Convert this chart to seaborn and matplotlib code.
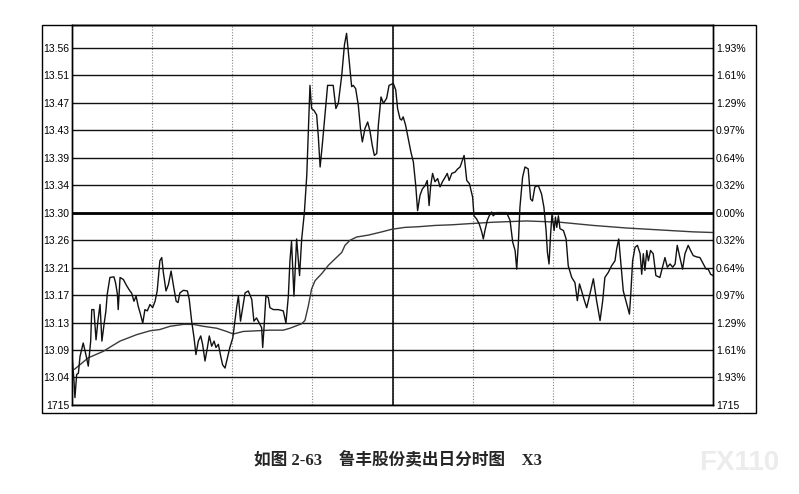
import numpy as np
import matplotlib
matplotlib.use("Agg")
import matplotlib.pyplot as plt
import seaborn as sns
from matplotlib.patches import Rectangle

# 昨收 与 每格涨跌幅 (0.32% 左右)
prev_close = 13.30
step = 0.04278

# 分时价格 (分钟, 价格)
price_t = [0, 0.75, 1.1, 1.75, 2.4, 3, 4.2, 5.2, 6.1, 7, 7.4, 8.2, 9, 9.7, 10.5, 11.2, 12, 12.7, 13.2, 14.2,
           15.7, 16.3, 17, 17.3, 18, 19.2, 20.5, 21.7, 22.3, 23.2, 24, 24.8, 25.5, 26.5, 27.3, 28.2, 29.2, 30.2,
           31.1, 31.9, 32.9, 33.6, 34.2, 35.2, 36.1, 37.1, 38, 39, 39.7, 40.4, 41.7, 43.2, 43.9, 44.8, 45.7,
           46.4, 47.3, 48.2, 48.9, 49.8, 50.7, 51.4, 52.3, 53.2, 53.9, 54.8, 55.7, 56.4, 57.3, 58.2, 59.1,
           60.2, 61, 61.7, 62.3, 63.1, 63.9, 64.8, 66, 67.3, 68.1, 69.1, 70.1, 71, 71.4, 71.9, 72.6, 73.5,
           74.1, 75.4, 77.2, 79.1, 80.1, 81, 81.6, 82.2, 83.1, 84.1, 85.2, 86, 87, 87.9, 88.5, 89.1, 89.7,
           90.6, 91.6, 92.2, 92.9, 93.7, 94.7, 95.7, 97.8, 98.8, 99.7, 101, 102, 102.8, 103.7, 104.7, 105.3,
           106.2, 107.2, 108, 108.7, 109.7, 110.7, 111.6, 112.4, 113.2, 114.1, 114.7, 115.7, 116.6, 117.8,
           118.7, 120.3, 121.2, 121.9, 122.8, 123.4, 124, 124.9, 125.9, 126.9, 127.8, 128.7, 129.4, 130.3,
           131.2, 132.2, 133, 133.7, 134.3, 135, 135.9, 136.9, 137.8, 138.7, 139.7, 140.5, 141.2, 142.2,
           143.4, 144.4, 145.3, 146.8, 147.8, 148.8, 150, 150.5, 151.5, 152.5, 153.4, 154, 154.6, 155.5,
           156.2, 157.1, 157.7, 159, 162.7, 164, 165, 165.9, 166.5, 167.1, 167.7, 168.7, 169.6, 170.8,
           171.7, 172.4, 173.3, 174.6, 175.8, 176.7, 177.5, 178, 178.6, 179.2, 179.7, 180.5, 181, 181.5,
           182.1, 182.7, 184, 185, 185.8, 187.1, 188.3, 189.2, 190, 190.8, 191.7, 192.7, 193.9, 195.2,
           196.4, 197.7, 198.7, 199.5, 200.8, 202, 203.3, 203.9, 204.7, 205.4, 206.4, 207.7, 208.7, 209.2,
           209.9, 210.8, 211.7, 212.7, 213.3, 213.9, 214.5, 215.2, 215.8, 216.6, 217.6, 218.6, 220.1,
           221.1, 222, 222.9, 223.9, 224.9, 225.8, 226.6, 227.6, 228.6, 229.5, 230.7, 231.6, 232.6, 233.9,
           235.1, 236.4, 237.4, 238.2, 239.1, 240]
price_v = [13.079, 13.038, 13.012, 13.048, 13.05, 13.076, 13.097, 13.079, 13.061, 13.10, 13.149, 13.149,
           13.102, 13.131, 13.157, 13.10, 13.126, 13.147, 13.173, 13.199, 13.20, 13.191, 13.173, 13.149,
           13.199, 13.196, 13.186, 13.178, 13.175, 13.162, 13.17, 13.154, 13.144, 13.128, 13.149, 13.147,
           13.157, 13.152, 13.162, 13.178, 13.225, 13.23, 13.207, 13.178, 13.188, 13.209, 13.186, 13.162,
           13.16, 13.175, 13.179, 13.178, 13.165, 13.131, 13.105, 13.079, 13.10, 13.108, 13.095, 13.069,
           13.09, 13.108, 13.092, 13.10, 13.09, 13.095, 13.076, 13.063, 13.058, 13.074, 13.09, 13.105,
           13.131, 13.154, 13.17, 13.131, 13.152, 13.175, 13.178, 13.165, 13.131, 13.136, 13.128, 13.121,
           13.09, 13.121, 13.17, 13.168, 13.152, 13.149, 13.149, 13.147, 13.128, 13.17, 13.225, 13.255,
           13.17, 13.259, 13.202, 13.259, 13.30, 13.358, 13.426, 13.498, 13.462, 13.459, 13.452, 13.42,
           13.371, 13.405, 13.452, 13.498, 13.498, 13.462, 13.47, 13.514, 13.561, 13.579, 13.54, 13.496,
           13.498, 13.493, 13.467, 13.431, 13.41, 13.431, 13.441, 13.426, 13.405, 13.389, 13.392, 13.436,
           13.48, 13.47, 13.478, 13.498, 13.501, 13.491, 13.462, 13.446, 13.444, 13.449, 13.436, 13.415,
           13.394, 13.379, 13.342, 13.303, 13.327, 13.337, 13.342, 13.35, 13.311, 13.342, 13.361, 13.348,
           13.353, 13.34, 13.348, 13.355, 13.361, 13.35, 13.361, 13.363, 13.368, 13.371, 13.389, 13.35,
           13.345, 13.324, 13.295, 13.29, 13.282, 13.27, 13.259, 13.272, 13.288, 13.295, 13.301, 13.295,
           13.30, 13.30, 13.288, 13.254, 13.241, 13.212, 13.251, 13.308, 13.355, 13.371, 13.368, 13.321,
           13.318, 13.34, 13.342, 13.329, 13.308, 13.272, 13.238, 13.22, 13.267, 13.298, 13.272, 13.293,
           13.277, 13.295, 13.275, 13.272, 13.259, 13.217, 13.199, 13.191, 13.163, 13.189, 13.178, 13.165,
           13.152, 13.173, 13.197, 13.163, 13.132, 13.163, 13.199, 13.207, 13.217, 13.225, 13.243, 13.259,
           13.225, 13.178, 13.158, 13.142, 13.173, 13.225, 13.246, 13.249, 13.236, 13.204, 13.236, 13.21,
           13.241, 13.225, 13.241, 13.236, 13.202, 13.199, 13.215, 13.23, 13.215, 13.22, 13.215, 13.22,
           13.249, 13.23, 13.212, 13.236, 13.249, 13.241, 13.233, 13.231, 13.23, 13.22, 13.212, 13.212,
           13.204, 13.202]

# 均价线
avg_t = [0.9, 6.1, 11.7, 14.8, 18, 21.1, 24.2, 29.2, 32.9, 36.7, 41.7, 45.4, 49.2, 54.2, 57.9, 60.4,
         64.1, 69.1, 74.1, 79.1, 81.6, 86, 87.2, 88.5, 89.7, 91, 93.5, 96, 98.5, 101, 102.2, 104.1, 106.6,
         111, 116, 119.7, 124.7, 129.7, 135.9, 142.2, 149.6, 157.7, 170.2, 182.7, 195.2, 207.7, 220.1,
         232.6, 240]
avg_v = [13.056, 13.074, 13.084, 13.092, 13.10, 13.105, 13.11, 13.116, 13.118, 13.123, 13.126, 13.126,
         13.123, 13.12, 13.115, 13.111, 13.115, 13.116, 13.117, 13.117, 13.12, 13.127, 13.132, 13.155,
         13.181, 13.194, 13.205, 13.218, 13.228, 13.238, 13.249, 13.257, 13.262, 13.265, 13.27, 13.274,
         13.277, 13.278, 13.28, 13.281, 13.283, 13.285, 13.287, 13.285, 13.28, 13.276, 13.273, 13.27,
         13.269]

left_labels = ["1715", "13.04", "13.09", "13.13", "13.17", "13.21", "13.26", "13.30",
               "13.34", "13.39", "13.43", "13.47", "13.51", "13.56"]
right_labels = ["1715", "1.93%", "1.61%", "1.29%", "0.97%", "0.64%", "0.32%", "0.00%",
                "0.32%", "0.64%", "0.97%", "1.29%", "1.61%", "1.93%"]
title = "如图 2-63\u3000鲁丰股份卖出日分时图\u3000X3"

sns.set_style("white")
plt.rcParams['font.family'] = ['Liberation Sans', 'DejaVu Sans']

fig = plt.figure(figsize=(7.99, 4.94), dpi=100)
ax = fig.add_axes([0.0901, 0.1802, 0.8023, 0.7692])

yticks = prev_close + step * np.arange(-7, 7)
ax.set_xlim(0, 240)
ax.set_ylim(prev_close - 7 * step, 13.592)
ax.set_xticks(range(0, 241, 30))
ax.set_xticklabels([])
ax.set_yticks(yticks)
ax.set_yticklabels(left_labels)

# 网格
ax.grid(axis='y', color='#111111', lw=1.0)
ax.grid(axis='x', color='#888888', ls=(0, (1, 1.5)), lw=0.8)
ax.axhline(prev_close, color='black', lw=2.0, zorder=2)
ax.axvline(120, color='black', lw=1.1, zorder=2)

sns.lineplot(x=avg_t, y=avg_v, ax=ax, color='#3a3a3a', lw=1.0, estimator=None, sort=False, zorder=3)
sns.lineplot(x=price_t, y=price_v, ax=ax, color='#111111', lw=1.0, estimator=None, sort=False, zorder=4)

ax2 = ax.twinx()
ax2.set_ylim(ax.get_ylim())
ax2.set_yticks(yticks)
ax2.set_yticklabels(right_labels)

for a in (ax, ax2):
    a.tick_params(axis='both', length=0, pad=2, labelsize=7.5, colors='black')
    for s in a.spines.values():
        s.set_color('black')
        s.set_linewidth(1.0)

# 外框
fig.add_artist(Rectangle((0.0526, 0.164), 0.8936, 0.7854, transform=fig.transFigure,
                         fill=False, ec='black', lw=1.0))

fig.text(0.498, 0.069, title, ha='center', va='center', fontsize=12, weight='bold',
         family=['Liberation Serif', 'Noto Sans CJK SC', 'DejaVu Sans'])
fig.text(0.925, 0.062, "FX110", ha='center', va='center', fontsize=20, weight='bold',
         color='#ececec')

fig.savefig("out.png", dpi=100)
plt.close()
